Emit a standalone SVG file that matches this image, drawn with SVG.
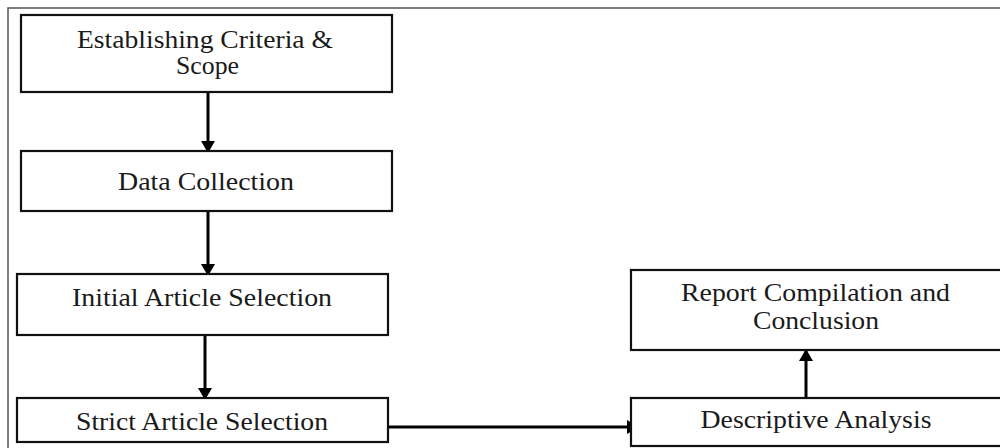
<svg xmlns="http://www.w3.org/2000/svg" width="1000" height="448" viewBox="0 0 1000 448">
<defs>
<style>
.frame{fill:none;stroke:#555;stroke-width:1.5}
.box{fill:#fff;stroke:#111;stroke-width:2.2}
.lbl{font-family:"Liberation Serif","Times New Roman",serif;font-size:25px;fill:#1a1a1a;text-anchor:middle}
.conn{stroke:#000;stroke-width:3;fill:none}
</style>
<marker id="ah" markerUnits="userSpaceOnUse" markerWidth="14" markerHeight="14" viewBox="0 0 12 14" refX="11" refY="7" orient="auto">
<path d="M0,0 L12,7 L0,14 Z" fill="#000"/>
</marker>
</defs>
<rect width="1000" height="448" fill="#fff"/>
<rect class="frame" x="8" y="8" width="1000" height="450"/>
<g id="connectors">
<line class="conn" x1="208" y1="92" x2="208" y2="152" marker-end="url(#ah)"/>
<line class="conn" x1="208" y1="211" x2="208" y2="275" marker-end="url(#ah)"/>
<line class="conn" x1="205" y1="335" x2="205" y2="399" marker-end="url(#ah)"/>
<line class="conn" x1="388" y1="427" x2="638" y2="427" marker-end="url(#ah)"/>
<line class="conn" x1="806" y1="398" x2="806" y2="350" marker-end="url(#ah)"/>
</g>
<g id="n1">
<rect class="box" x="21" y="15" width="371" height="77"/>
<text class="lbl" x="205" y="48" textLength="256" lengthAdjust="spacingAndGlyphs">Establishing Criteria &amp;</text>
<text class="lbl" x="207.5" y="74" textLength="63" lengthAdjust="spacingAndGlyphs">Scope</text>
</g>
<g id="n2">
<rect class="box" x="21" y="151" width="371" height="60"/>
<text class="lbl" x="206" y="190" textLength="176" lengthAdjust="spacingAndGlyphs">Data Collection</text>
</g>
<g id="n3">
<rect class="box" x="17" y="274" width="371" height="61"/>
<text class="lbl" x="202" y="306" textLength="260" lengthAdjust="spacingAndGlyphs">Initial Article Selection</text>
</g>
<g id="n4">
<rect class="box" x="17" y="398" width="371" height="44"/>
<text class="lbl" x="202" y="430" textLength="252" lengthAdjust="spacingAndGlyphs">Strict Article Selection</text>
</g>
<g id="n5">
<rect class="box" x="631" y="270" width="400" height="80"/>
<text class="lbl" x="815.5" y="301" textLength="269" lengthAdjust="spacingAndGlyphs">Report Compilation and</text>
<text class="lbl" x="816" y="329" textLength="126" lengthAdjust="spacingAndGlyphs">Conclusion</text>
</g>
<g id="n6">
<rect class="box" x="631" y="398" width="400" height="48"/>
<text class="lbl" x="816" y="428" textLength="231" lengthAdjust="spacingAndGlyphs">Descriptive Analysis</text>
</g>
</svg>
